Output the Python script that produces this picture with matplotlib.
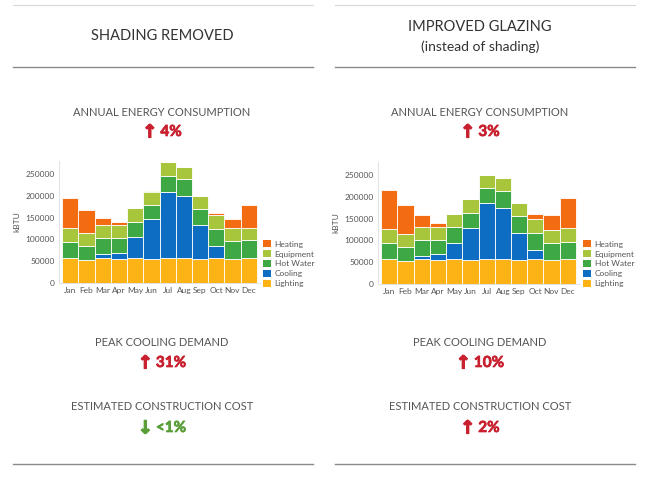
import matplotlib
matplotlib.use("Agg")
import matplotlib.pyplot as plt
import matplotlib.patheffects as pe
import numpy as np
from matplotlib.patches import Patch

plt.rcParams['font.family'] = ['Lato', 'DejaVu Sans']

months = ["Jan", "Feb", "Mar", "Apr", "May", "Jun", "Jul", "Aug", "Sep", "Oct", "Nov", "Dec"]
series_names = ["Lighting", "Cooling", "Hot Water", "Equipment", "Heating"]
series_colors = ["#FDB316", "#0C6DC3", "#3DA844", "#A8C63C", "#F46C12"]

# Left: Shading removed (component values, kBTU)
left_lighting = [58000, 53000, 57000, 56000, 57000, 56000, 57000, 57000, 56000, 57000, 55000, 57000]
left_cooling = [0, 0, 9000, 14000, 48000, 90000, 153000, 142000, 76000, 27000, 0, 0]
left_hotwater = [37000, 33000, 37000, 34000, 35000, 34000, 36000, 40000, 38000, 40000, 41000, 41000]
left_equipment = [32000, 28000, 30000, 30000, 31000, 30000, 31000, 28000, 29000, 31000, 30000, 29000]
left_heating = [69000, 53000, 17000, 5000, 0, 0, 0, 0, 0, 6000, 22000, 53000]

# Right: Improved glazing
right_lighting = [58000, 52000, 58000, 55000, 58000, 55000, 58000, 58000, 55000, 58000, 55000, 58000]
right_cooling = [0, 0, 6000, 13000, 37000, 73000, 127000, 117000, 61000, 20000, 0, 0]
right_hotwater = [37000, 34000, 37000, 33000, 35000, 36000, 36000, 39000, 39000, 40000, 40000, 39000]
right_equipment = [31000, 28000, 29000, 29000, 31000, 30000, 30000, 30000, 30000, 32000, 30000, 31000]
right_heating = [90000, 68000, 28000, 10000, 0, 0, 0, 0, 0, 10000, 34000, 70000]

yticks = [0, 50000, 100000, 150000, 200000, 250000]

panel_titles = [["SHADING REMOVED"], ["IMPROVED GLAZING", "(instead of shading)"]]
metric_labels = ["ANNUAL ENERGY CONSUMPTION", "PEAK COOLING DEMAND", "ESTIMATED CONSTRUCTION COST"]
left_arrows = ["\u2191", "\u2191", "\u2193"]
left_values = ["4%", "31%", "<1%"]
right_arrows = ["\u2191", "\u2191", "\u2191"]
right_values = ["3%", "10%", "2%"]
left_metric_colors = ["#C8202F", "#C8202F", "#5A9E3A"]
right_metric_colors = ["#C8202F", "#C8202F", "#C8202F"]

W, H = 651, 483
fig = plt.figure(figsize=(W / 100, H / 100), dpi=100)

def fx(px):
    return px / W

def fy(py):
    return 1 - py / H

def draw_chart(rect, data, legend_x):
    ax = fig.add_axes(rect)
    x = np.arange(len(months))
    bottom = np.zeros(len(months))
    for vals, col in zip(data, series_colors):
        v = np.array(vals, dtype=float)
        ax.bar(x, v, width=1.0, bottom=bottom, color=col, edgecolor="white", linewidth=0.6)
        bottom += v
    ax.set_xlim(-0.7, 11.7)
    ax.set_ylim(0, 280000)
    ax.set_xticks(x)
    ax.set_xticklabels(months)
    ax.set_yticks(yticks)
    ax.set_yticklabels([str(t) for t in yticks])
    ax.tick_params(axis='both', length=0, labelsize=6, colors="#555555", pad=3)
    for s in ["top", "right"]:
        ax.spines[s].set_visible(False)
    for s in ["left", "bottom"]:
        ax.spines[s].set_color("#dddddd")
        ax.spines[s].set_linewidth(0.6)
    ax.set_ylabel("kBTU", fontsize=6, color="#555555", labelpad=4)
    handles = [Patch(facecolor=c, edgecolor="none") for c in series_colors][::-1]
    labels = series_names[::-1]
    fig.legend(handles, labels, loc="lower left", bbox_to_anchor=(fx(legend_x), fy(287)),
               frameon=False, fontsize=6, labelcolor="#555555", handlelength=0.9,
               handleheight=0.9, handletextpad=0.5, labelspacing=0.3, borderpad=0,
               borderaxespad=0)
    return ax

ax_h = (283 - 161) / H
draw_chart([fx(59), fy(283), fx(201), ax_h],
           [left_lighting, left_cooling, left_hotwater, left_equipment, left_heating], 263)
draw_chart([fx(378), fy(284), fx(201), ax_h],
           [right_lighting, right_cooling, right_hotwater, right_equipment, right_heating], 583)

# Decorative lines
line_color = "#8a8a8a"
for (xa, xb) in [(13, 313), (335, 635)]:
    for yy, col, lw in [(5, "#d8d8d8", 0.8), (67, line_color, 1.0), (464, line_color, 1.0)]:
        fig.add_artist(plt.Line2D([fx(xa), fx(xb)], [fy(yy), fy(yy)], color=col, lw=lw))

# Titles
fig.text(fx(162), fy(36), panel_titles[0][0], ha="center", va="center", fontsize=10.5, color="#333333")
fig.text(fx(480), fy(27), panel_titles[1][0], ha="center", va="center", fontsize=10.5, color="#333333")
fig.text(fx(480), fy(47), panel_titles[1][1], ha="center", va="center", fontsize=10, color="#333333")

renderer = fig.canvas.get_renderer()
label_ys = [112, 342, 407]
value_ys = [132, 363, 428]
for cx, arrows, values, mcols in [(162, left_arrows, left_values, left_metric_colors),
                                  (480, right_arrows, right_values, right_metric_colors)]:
    for lab, ly, vy, arr, val, col in zip(metric_labels, label_ys, value_ys, arrows, values, mcols):
        fig.text(fx(cx), fy(ly), lab, ha="center", va="center", fontsize=8, color="#555555")
        t_val = fig.text(0, fy(vy), val, ha="left", va="center", fontsize=11,
                         color=col, fontweight="bold")
        t_val.set_path_effects([pe.Stroke(linewidth=0.5, foreground=col), pe.Normal()])
        t_arr = fig.text(0, fy(vy + 0.5), arr, ha="left", va="center", fontsize=13,
                         color=col, fontweight="bold", family="DejaVu Sans")
        t_arr.set_path_effects([pe.Stroke(linewidth=0.9, foreground=col), pe.Normal()])
        wv = t_val.get_window_extent(renderer).width
        wa = t_arr.get_window_extent(renderer).width
        gap = 3
        total = wa + gap + wv
        left_px = cx - total / 2
        t_arr.set_x(fx(left_px))
        t_val.set_x(fx(left_px + wa + gap))

fig.savefig("out.png", dpi=100, facecolor="white")
